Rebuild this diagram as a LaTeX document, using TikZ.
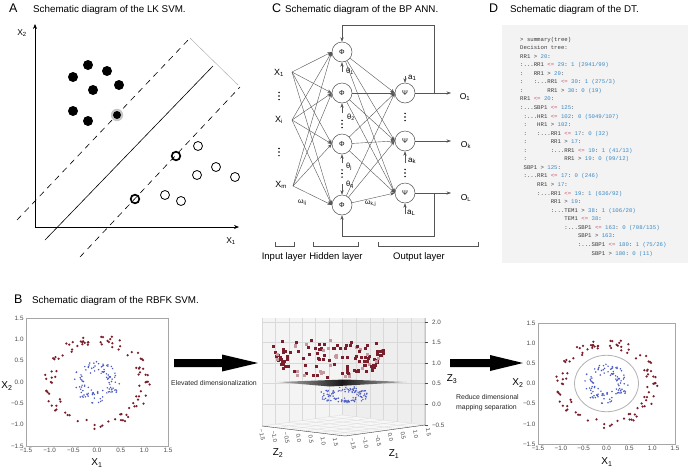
\documentclass[tikz,border=0pt]{standalone}
\usepackage{fontspec}
\setmainfont{Liberation Sans}
\setmonofont{Liberation Mono}
\usetikzlibrary{arrows.meta}
\definecolor{dtbg}{HTML}{F3F3F3}
\definecolor{dtblue}{HTML}{3D8AC4}
\definecolor{dtred}{HTML}{C4506C}
\definecolor{dttxt}{HTML}{3C3C3C}
\definecolor{ptred}{HTML}{7B1E2C}
\definecolor{ptblue}{HTML}{4A5AC2}
\definecolor{nnline}{HTML}{555555}
\definecolor{ticktxt}{HTML}{4A4A4A}
\newcommand\myfs[1]{\fontsize{#1}{#1}\selectfont}
\newcommand\dtle{\textcolor{dtred}{<=}}
\newcommand\dtn[1]{\textcolor{dtblue}{#1}}
\newcommand\dtl[3]{\node[dtline] (d#2) at ({520+#1*3.4},{41+(#2-1)*8.56}) {#3};}
\newcommand\mydots[2]{\fill[black] (#1,#2-3.6) circle[radius=0.85] (#1,#2) circle[radius=0.85] (#1,#2+3.6) circle[radius=0.85];}
\newcommand\myrings{%
  \pgfmathsetseed{4242}%
  \foreach \i in {1,...,100}{%
    \pgfmathsetmacro\ang{rnd*360}%
    \pgfmathsetmacro\rr{1+0.12*rand}%
    \fill[ptred] ({\rr*cos(\ang)},{\rr*sin(\ang)}) circle[radius=1.25pt];%
  }%
  \foreach \i in {1,...,110}{%
    \pgfmathsetmacro\ang{rnd*360}%
    \pgfmathsetmacro\rr{0.36+0.14*rand}%
    \fill[ptblue] ({\rr*cos(\ang)},{\rr*sin(\ang)}) circle[radius=0.85pt];%
  }%
}
\newcommand\myaxes[1]{%
  \draw[gray!70, line width=0.6pt] (-1.5,-1.5) rectangle (1.5,1.5);%
  \foreach \v/\t [count=\k] in {-1.5/−1.5,-1.0/−1.0,-0.5/−0.5,0/0.0,0.5/0.5,1.0/1.0,1.5/1.5}{%
    \node[tklab, anchor=east] (#1y\k) at ([xshift=-1.5pt]-1.5,\v) {\t};%
    \node[tklab, anchor=north] (#1x\k) at ([yshift=-1pt]\v,-1.5) {\t};%
  }%
}
\begin{document}
\begin{tikzpicture}[x=1pt,y=-1pt,
  lett/.style={anchor=base west, inner sep=0, font=\myfs{12.5}},
  ttl/.style={anchor=base west, inner sep=0, font=\myfs{9.8}},
  phin/.style={circle, draw=nnline, line width=0.5pt, minimum size=20pt, inner sep=0, font=\myfs{7}},
  xlab/.style={inner sep=0, font=\myfs{9}},
  glab/.style={inner sep=0, anchor=west, font=\myfs{7.5}},
  nnarrow/.style={draw=nnline, line width=0.4pt, -{Stealth[length=4.5pt,width=3.2pt]}},
  dtline/.style={anchor=base west, inner sep=0, text=dttxt, font=\ttfamily\myfs{5.67}\frenchspacing},
  tklab/.style={inner sep=0.8pt, text=ticktxt, font=\myfs{6.3}},
  zlab/.style={inner sep=0.3pt, text=ticktxt, font=\myfs{5.8}, rotate=-80, anchor=west},
  axlab/.style={inner sep=0, font=\myfs{10}},
  gridc/.style={draw=gray!30, line width=0.3pt},
  smalltxt/.style={inner sep=0, anchor=base west, font=\myfs{6.9}, text=black!85},
  bracketc/.style={draw=nnline, line width=0.5pt}
]
\useasboundingbox (0,0) rectangle (688,469);
\fill[white] (0,0) rectangle (688,469);

% ================= Panel A =================
\node[lett] (tA) at (9,12) {A};
\node[ttl] (tAt) at (33,12) {Schematic diagram of the LK SVM.};
\coordinate (Ao) at (35,227);
\coordinate (Ay) at (35,24);
\coordinate (Ax) at (239,227);
\draw[line width=0.7pt, -{Stealth[length=5pt,width=4pt]}] (Ao) -- (Ay);
\draw[line width=0.7pt, -{Stealth[length=5pt,width=4pt]}] (Ao) -- (Ax);
\node[axlab, font=\myfs{8.5}] (AX2) at (22,33) {X\textsubscript{2}};
\node[axlab, font=\myfs{8.5}] (AX1) at (231,241) {X\textsubscript{1}};
\coordinate (s0) at (45,240);
\coordinate (s1) at (213,66);
\coordinate (u0) at (17,220);
\coordinate (u1) at (190,38);
\coordinate (l0) at (80,257);
\coordinate (l1) at (240,87);
\draw[line width=0.6pt] (s0) -- (s1);
\draw[line width=0.6pt, dash pattern=on 6pt off 5pt] (u0) -- (u1);
\draw[line width=0.6pt, dash pattern=on 6pt off 5pt] (l0) -- (l1);
\draw[gray!70, line width=0.4pt] (u1) -- (238,85);
\foreach \px/\py in {73/77,88/65,107/71,119/85,93/90,73/111,88/121}{
  \fill[black] (\px,\py) circle[radius=5];
}
\fill[gray!45] (117,115) circle[radius=6.2];
\fill[black] (117,115) circle[radius=4];
\foreach \px/\py in {198/146,216/167,197/175,235/177,165/195,181/201}{
  \draw[line width=0.8pt] (\px,\py) circle[radius=4.5];
}
\draw[line width=1.7pt] (176,156) circle[radius=4.3];
\draw[line width=1.7pt] (135,199) circle[radius=4.3];

% ================= Panel C =================
\node[lett] (tC) at (272,12) {C};
\node[ttl] (tCt) at (285,12) {Schematic diagram of the BP ANN.};
\node[phin] (p1) at (342,52) {Φ};
\node[phin] (p2) at (342,93) {Φ};
\node[phin] (p3) at (342,144) {Φ};
\node[phin] (p4) at (342,205) {Φ};
\node[phin] (q1) at (405,93) {Ψ};
\node[phin] (q2) at (405,141) {Ψ};
\node[phin] (q3) at (405,193) {Ψ};
\node[xlab] (x1) at (279,73) {X\textsubscript{1}};
\node[xlab] (xi) at (279,120) {X\textsubscript{i}};
\node[xlab] (xm) at (281,185) {X\textsubscript{m}};
\coordinate (x1o) at (292,72);
\coordinate (xio) at (292,120);
\coordinate (xmo) at (293,186);
\mydots{279}{96}
\mydots{279}{152}
\foreach \a in {x1o,xio,xmo}{
  \foreach \b in {p1,p2,p3,p4}{
    \draw[nnarrow] (\a) -- (\b.west);
  }
}
\foreach \a in {p1,p2,p3,p4}{
  \foreach \b in {q1,q2,q3}{
    \draw[nnarrow] (\a) -- (\b.west);
  }
}
% thresholds
\coordinate (t1) at (342,72);
\coordinate (t2) at (342,113);
\coordinate (t3) at (342,163);
\coordinate (t4) at (342,184);
\draw[nnarrow] (t1) -- (p1.south);
\draw[nnarrow] (t2) -- (p2.south);
\draw[nnarrow] (t3) -- (p3.south);
\draw[nnarrow] (t4) -- (p4.north);
\mydots{342}{124}
\mydots{342}{173.5}
\node[glab] (th1) at (346,71) {θ\textsubscript{1}};
\node[glab] (th2) at (347,117) {θ\textsubscript{2}};
\node[glab] (thj) at (346,167) {θ\textsubscript{j}};
\node[glab] (thq) at (346,185) {θ\textsubscript{q}};
% output biases
\coordinate (a1s) at (405,76);
\coordinate (aks) at (405,163);
\coordinate (aLs) at (405,214);
\draw[nnarrow] (a1s) -- (q1.north);
\draw[nnarrow] (aks) -- (q2.south);
\draw[nnarrow] (aLs) -- (q3.south);
\node[glab, font=\myfs{8}] (la1) at (408,78) {a\textsubscript{1}};
\node[glab, font=\myfs{8}] (lak) at (408,161) {a\textsubscript{k}};
\node[glab, font=\myfs{8}] (laL) at (407,213) {a\textsubscript{L}};
\mydots{405}{117}
\mydots{405}{173}
% outputs
\coordinate (oe1) at (451,93);
\coordinate (oe2) at (451,141);
\coordinate (oe3) at (451,193);
\draw[nnarrow] (q1) -- (oe1);
\draw[nnarrow] (q2) -- (oe2);
\draw[nnarrow] (q3) -- (oe3);
\node[xlab, font=\myfs{8.5}] (o1) at (465,97) {O\textsubscript{1}};
\node[xlab, font=\myfs{8.5}] (ok) at (466,145) {O\textsubscript{k}};
\node[xlab, font=\myfs{8.5}] (oL) at (466,198) {O\textsubscript{L}};
% feedback loops
\coordinate (fbt0) at (434,93);
\coordinate (fbt1) at (434,25);
\coordinate (fbb0) at (434,193);
\coordinate (fbb1) at (434,236);
\draw[nnarrow] (fbt0) -- (fbt1) -| (p1.north);
\draw[nnarrow] (fbb0) -- (fbb1) -| (p4.south);
\node[glab, font=\myfs{7}] (wij) at (298,203) {ω\textsubscript{ij}};
\node[glab, font=\myfs{7}] (wkj) at (365,204) {ω\textsubscript{k,j}};
% layer brackets
\draw[bracketc] (275,242) -- (275,246) -- (294,246) -- (294,242);
\draw[bracketc] (313,242) -- (313,246) -- (358,246) -- (358,242);
\draw[bracketc] (378,242) -- (378,246) -- (478,246) -- (478,242);
\node[inner sep=0, font=\myfs{9.5}] (lin) at (284,257) {Input layer};
\node[inner sep=0, font=\myfs{9.5}] (lhid) at (336,257) {Hidden layer};
\node[inner sep=0, font=\myfs{9.5}] (lout) at (419,257) {Output layer};

% ================= Panel D =================
\node[lett] (tD) at (489,12) {D};
\node[ttl] (tDt) at (510,12) {Schematic diagram of the DT.};
\fill[dtbg] (502,25) rectangle (688,263);
\dtl{0}{1}{> summary(tree)}
\dtl{0}{2}{Decision tree:}
\dtl{0}{3}{RR1 > \dtn{20}:}
\dtl{0}{4}{:...RR1 \dtle{} \dtn{29}: \dtn{1 (2941/99)}}
\dtl{0}{5}{:~~~RR1 > \dtn{29}:}
\dtl{0}{6}{:~~~:...RR1 \dtle{} \dtn{30}: \dtn{1 (275/3)}}
\dtl{0}{7}{:~~~~~~~RR1 > \dtn{30}: \dtn{0 (19)}}
\dtl{0}{8}{RR1 \dtle{} \dtn{20}:}
\dtl{0}{9}{:...SBP1 \dtle{} \dtn{125}:}
\dtl{1}{10}{:...HR1 \dtle{} \dtn{102}: \dtn{0 (5049/107)}}
\dtl{1}{11}{:~~~HR1 > \dtn{102}:}
\dtl{1}{12}{:~~~:...RR1 \dtle{} \dtn{17}: \dtn{0 (32)}}
\dtl{1}{13}{:~~~~~~~RR1 > \dtn{17}:}
\dtl{1}{14}{:~~~~~~~:...RR1 \dtle{} \dtn{19}: \dtn{1 (41/13)}}
\dtl{1}{15}{:~~~~~~~~~~~RR1 > \dtn{19}: \dtn{0 (99/12)}}
\dtl{1}{16}{SBP1 > \dtn{125}:}
\dtl{1}{17}{:...RR1 \dtle{} \dtn{17}: \dtn{0 (246)}}
\dtl{5}{18}{RR1 > \dtn{17}:}
\dtl{5}{19}{:...RR1 \dtle{} \dtn{19}: \dtn{1 (636/92)}}
\dtl{9}{20}{RR1 > \dtn{19}:}
\dtl{9}{21}{:...TEM1 > \dtn{38}: \dtn{1 (106/20)}}
\dtl{13}{22}{TEM1 \dtle{} \dtn{38}:}
\dtl{13}{23}{:...SBP1 \dtle{} \dtn{163}: \dtn{0 (708/135)}}
\dtl{17}{24}{SBP1 > \dtn{163}:}
\dtl{17}{25}{:...SBP1 \dtle{} \dtn{180}: \dtn{1 (75/26)}}
\dtl{21}{26}{SBP1 > \dtn{180}: \dtn{0 (11)}}

% ================= Panel B =================
\node[lett] (tB) at (14,303) {B};
\node[ttl] (tBt) at (32,303) {Schematic diagram of the RBFK SVM.};
% left scatter
\begin{scope}[shift={(97,382)}, x=47.33pt, y=42.67pt]
  \myrings
  \myaxes{L}
\end{scope}
\node[axlab] (LX1) at (97,463) {X\textsubscript{1}};
\node[axlab] (LX2) at (7,386) {X\textsubscript{2}};
% right scatter
\begin{scope}[shift={(606.5,383.5)}, x=45.67pt, y=40.33pt]
  \myrings
  \draw[gray!60, line width=0.8pt] (0,0) circle[radius=0.7];
  \myaxes{R}
\end{scope}
\node[axlab] (RX1) at (607,462) {X\textsubscript{1}};
\node[axlab] (RX2) at (518,383) {X\textsubscript{2}};

% 3D plot
\fill[gray!9] (262,318) -- (342,318) -- (342,415) -- (262,426) -- cycle;
\fill[gray!13] (342,318) -- (425,318) -- (425,425) -- (342,415) -- cycle;
\fill[gray!6] (262,426) -- (342,415) -- (425,425) -- (345,436) -- cycle;
\foreach \k in {0,...,6}{
  \draw[gridc] ({262+13.33*\k},318) -- ({262+13.33*\k},{426-1.83*\k});
  \draw[gridc] ({342+13.83*\k},318) -- ({342+13.83*\k},{415+1.67*\k});
  \draw[gridc] ({262+13.83*\k},{426+1.67*\k}) -- ++(80,-11);
  \draw[gridc] ({262+13.33*\k},{426-1.83*\k}) -- ++(83,10);
}
\foreach \yy in {322,342,363,383,404}{
  \draw[gridc] (262,\yy) -- (425,\yy);
}
\draw[gray!60!black, line width=0.4pt] (262,426) -- (345,436) -- (425,425) -- (425,318);
\foreach \yy/\t [count=\k] in {322/2.0,342/1.5,363/1.0,383/0.5,404/0.0,425/−0.5}{
  \draw[gray!60!black, line width=0.4pt] (425,\yy) -- (428,\yy);
  \node[tklab, anchor=west] (z3t\k) at (431,\yy) {\t};
}
\foreach \t [count=\k from 0] in {−1.5,−1.0,−0.5,0.0,0.5,1.0,1.5}{
  \node[zlab] (z2t\k) at ({261+12.3*\k},{429+1.5*\k}) {\t};
  \node[zlab] (z1t\k) at ({352+12.6*\k},{438-1.7*\k}) {\t};
}
\node[axlab] (Z3) at (452,379) {Z\textsubscript{3}};
\node[axlab] (Z2) at (278,453) {Z\textsubscript{2}};
\node[axlab] (Z1) at (394,454) {Z\textsubscript{1}};
% red points
\pgfmathsetseed{99}
\foreach \i in {1,...,135}{
  \pgfmathsetmacro\ang{rnd*360}
  \pgfmathsetmacro\rr{1+0.12*rand}
  \pgfmathsetmacro\px{329+50*\rr*cos(\ang)}
  \pgfmathsetmacro\py{359-40*(\rr*\rr-1)+9*sin(\ang)+3*rand}
  \pgfmathtruncatemacro\sh{(rnd > 0.25) ? 100 : 45}
  \fill[ptred!\sh!white] (\px-1.5,\py-1.5) rectangle (\px+1.5,\py+1.5);
}
% blue points
\foreach \i in {1,...,110}{
  \pgfmathsetmacro\ang{rnd*360}
  \pgfmathsetmacro\rr{0.36+0.12*rand}
  \pgfmathsetmacro\px{344+50*\rr*cos(\ang)}
  \pgfmathsetmacro\py{395+6*\rr/0.36*sin(\ang)+1.5*rand}
  \fill[ptblue] (\px,\py) circle[radius=0.8];
}
% separating plane
\shade[left color=gray!55, right color=gray!55, middle color=black!90] (277,382) -- (345,379.5) -- (407,382) -- (330,386.5) -- cycle;

% big arrows
\fill[black] (174,359) -- (222,359) -- (222,354.5) -- (258,363) -- (222,371.5) -- (222,367) -- (174,367) -- cycle;
\fill[black] (450,359) -- (490,359) -- (490,355) -- (523,363) -- (490,371) -- (490,367) -- (450,367) -- cycle;
\node[smalltxt] (elev) at (171,385) {Elevated dimensionalization};
\node[smalltxt] (red1) at (456,399) {Reduce dimensional};
\node[smalltxt] (red2) at (456,409) {mapping separation};
\end{tikzpicture}
\end{document}
